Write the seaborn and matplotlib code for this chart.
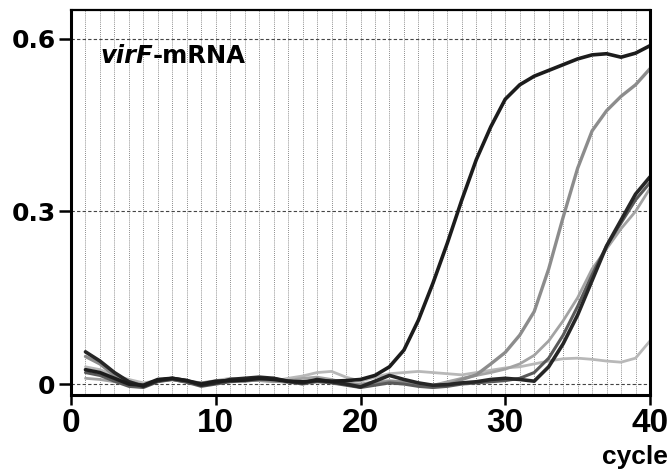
import numpy as np
import pandas as pd
import matplotlib
matplotlib.use("Agg")
import matplotlib.pyplot as plt
from matplotlib.ticker import MultipleLocator, FixedLocator
import seaborn as sns

cycles = list(range(1, 41))

series_A = [0.025, 0.02, 0.01, 0.0, -0.002, 0.008, 0.01, 0.006, 0.0, 0.005,
            0.006, 0.007, 0.01, 0.008, 0.005, 0.004, 0.006, 0.005, 0.006, 0.008,
            0.015, 0.03, 0.059, 0.111, 0.175, 0.245, 0.32, 0.39, 0.447, 0.495,
            0.52, 0.535, 0.545, 0.555, 0.565, 0.572, 0.574, 0.568, 0.575, 0.588]
series_B = [0.048, 0.035, 0.015, 0.004, -0.002, 0.006, 0.008, 0.004, 0.002, 0.004,
            0.006, 0.005, 0.008, 0.006, 0.003, 0.002, 0.004, 0.003, 0.0, -0.002,
            0.0, 0.004, 0.003, 0.0, -0.003, -0.002, 0.008, 0.016, 0.035, 0.055,
            0.085, 0.126, 0.2, 0.29, 0.375, 0.44, 0.475, 0.50, 0.52, 0.548]
series_C = [0.056, 0.04, 0.02, 0.004, -0.004, 0.006, 0.01, 0.006, -0.002, 0.002,
            0.008, 0.01, 0.012, 0.01, 0.005, 0.002, 0.008, 0.004, 0.0, -0.005,
            0.005, 0.015, 0.008, 0.002, -0.002, -0.001, 0.002, 0.004, 0.008, 0.01,
            0.008, 0.005, 0.03, 0.07, 0.12, 0.18, 0.24, 0.285, 0.33, 0.36]
series_D = [0.02, 0.015, 0.005, -0.004, -0.006, 0.004, 0.008, 0.003, -0.004, 0.0,
            0.004, 0.006, 0.008, 0.01, 0.004, 0.0, 0.005, 0.002, -0.002, -0.006,
            -0.002, 0.002, 0.0, -0.004, -0.006, -0.004, 0.0, 0.002, 0.004, 0.006,
            0.01, 0.02, 0.045, 0.085, 0.135, 0.19, 0.24, 0.28, 0.32, 0.35]
series_F = [0.01, 0.008, 0.004, 0.0, -0.002, 0.006, 0.008, 0.004, 0.0, 0.004,
            0.006, 0.008, 0.006, 0.004, 0.006, 0.01, 0.012, 0.008, 0.002, 0.0,
            0.004, 0.006, 0.004, 0.0, -0.002, 0.004, 0.01, 0.015, 0.02, 0.026,
            0.035, 0.05, 0.075, 0.11, 0.15, 0.2, 0.235, 0.27, 0.3, 0.34]
series_E = [0.03, 0.025, 0.015, 0.008, 0.002, 0.006, 0.008, 0.005, 0.002, 0.006,
            0.01, 0.008, 0.006, 0.005, 0.01, 0.014, 0.02, 0.022, 0.012, 0.005,
            0.012, 0.018, 0.02, 0.022, 0.02, 0.018, 0.016, 0.02, 0.024, 0.028,
            0.03, 0.035, 0.04, 0.044, 0.045, 0.043, 0.04, 0.038, 0.045, 0.075]

x_ticks = [0, 10, 20, 30, 40]
y_ticks = [0, 0.3, 0.6]
y_tick_labels = ["0", "0.3", "0.6"]

names = ["E", "F", "B", "D", "C", "A"]
data = {"A": series_A, "B": series_B, "C": series_C, "D": series_D,
        "E": series_E, "F": series_F}
palette = {"A": "#1c1c1c", "B": "#8c8c8c", "C": "#262626", "D": "#5a5a5a",
           "E": "#b8b8b8", "F": "#a3a3a3"}
widths = {"A": 2.6, "B": 2.4, "C": 2.6, "D": 2.2, "E": 2.0, "F": 2.0}

frames = []
for n in names:
    frames.append(pd.DataFrame({"cycle": cycles, "value": data[n], "sample": n}))
df = pd.concat(frames, ignore_index=True)

sns.set_theme(style="white")
plt.rcParams["font.family"] = ["DejaVu Sans"]

fig = plt.figure(figsize=(6.72, 4.72), dpi=100)
ax = fig.add_axes([71 / 672, 1 - 395 / 472, (650 - 71) / 672, (395 - 10) / 472])

ax.set_xlim(0, 40)
ax.set_ylim(-0.019, 0.650)

# grid
ax.xaxis.set_minor_locator(MultipleLocator(1))
ax.xaxis.set_major_locator(FixedLocator(x_ticks))
ax.yaxis.set_major_locator(FixedLocator(y_ticks))
ax.grid(which="minor", axis="x", color="#666666", linestyle=(0, (1, 1.5)), linewidth=0.6)
ax.grid(which="major", axis="x", color="#666666", linestyle=(0, (1, 1.5)), linewidth=0.6)
ax.grid(which="major", axis="y", color="#444444", linestyle=(0, (3, 2)), linewidth=0.8)
ax.set_axisbelow(True)

for n in names:
    sub = df[df["sample"] == n]
    sns.lineplot(data=sub, x="cycle", y="value", ax=ax, color=palette[n],
                 linewidth=widths[n], legend=False)

ax.set_xlabel("")
ax.set_ylabel("")
ax.set_yticklabels(y_tick_labels)
ax.tick_params(axis="x", which="major", bottom=True, direction="out", length=7.5,
               width=1.8, color="black", labelcolor="black", pad=2)
ax.tick_params(axis="y", which="major", left=True, direction="out", length=9,
               width=1.8, color="black", labelcolor="black", pad=2)
ax.tick_params(axis="x", which="minor", bottom=False, length=0)
for lab in ax.get_xticklabels():
    lab.set_fontweight("bold")
    lab.set_fontfamily("Liberation Sans")
    lab.set_fontsize(24)
for lab in ax.get_yticklabels():
    lab.set_fontweight("bold")
    lab.set_fontfamily("DejaVu Sans")
    lab.set_fontsize(18)

for side in ["left", "bottom", "right"]:
    ax.spines[side].set_linewidth(2.2)
    ax.spines[side].set_color("black")
ax.spines["top"].set_linewidth(1.6)
ax.spines["top"].set_color("black")

t1 = fig.text(100 / 672, 1 - 63 / 472, "virF", fontsize=17.5, color="black",
              fontweight="bold", fontstyle="italic", va="baseline", ha="left")
ax.annotate("-mRNA", xy=(1, 0), xycoords=t1, fontsize=17.5, fontweight="bold",
            color="black", va="bottom", ha="left")

fig.text(668 / 672, 1 - 464 / 472, "cycle", fontsize=19, fontweight="bold",
         family="Liberation Sans", color="black", ha="right", va="baseline")

fig.savefig("out.png", dpi=100)
